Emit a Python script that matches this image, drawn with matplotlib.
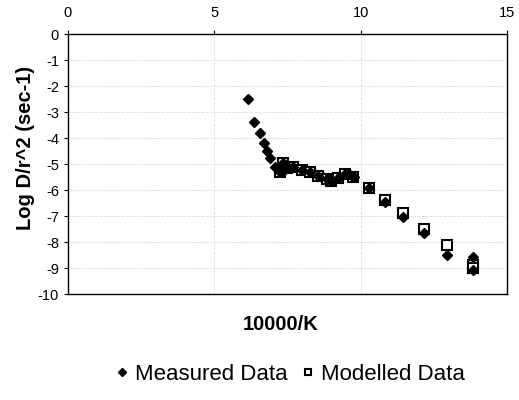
import matplotlib.pyplot as plt

plt.rcParams['font.family'] = ['Liberation Sans', 'DejaVu Sans']
plt.rcParams['axes.unicode_minus'] = False

# measured data (10000/K, log D/r^2)
meas_x = [6.16, 6.37, 6.56, 6.70, 6.80, 6.91, 7.07, 7.20, 7.24, 7.30, 7.36, 7.42, 7.47,
          7.55, 7.70, 7.98, 8.27, 8.55, 8.84, 9.00, 9.01, 9.24, 9.46, 9.60, 9.75, 9.77,
          10.28, 10.83, 11.46, 12.16, 12.94, 13.85, 13.85]
meas_y = [-2.51, -3.40, -3.82, -4.20, -4.50, -4.78, -5.10, -5.20, -5.30, -5.30, -4.97, -5.05,
          -5.17, -5.15, -5.10, -5.23, -5.32, -5.45, -5.58, -5.65, -5.64, -5.53, -5.40, -5.38,
          -5.49, -5.50, -5.93, -6.47, -7.03, -7.67, -8.50, -8.59, -9.08]

# modelled data
mod_x = [7.24, 7.36, 7.47, 7.70, 7.98, 8.27, 8.55, 8.84, 9.00, 9.24, 9.46, 9.75,
         10.28, 10.83, 11.46, 12.16, 12.94, 13.85, 13.85]
mod_y = [-5.30, -4.97, -5.17, -5.10, -5.23, -5.32, -5.45, -5.58, -5.65, -5.53, -5.40, -5.49,
         -5.93, -6.38, -6.90, -7.51, -8.12, -8.88, -9.00]

fig = plt.figure(figsize=(5.19, 4.0), dpi=100)
ax = fig.add_axes([0.131, 0.265, 0.846, 0.65])

ax.plot(meas_x, meas_y, linestyle='none', marker='D', markersize=5.5,
        color='black', label='Measured Data', zorder=4)
ax.plot(mod_x, mod_y, linestyle='none', marker='s', markersize=6.5,
        markerfacecolor='white', markeredgecolor='black', markeredgewidth=1.5,
        label='Modelled Data', zorder=3)

ax.set_xlim(0, 15)
ax.set_ylim(-10, 0)
ax.set_xticks([0, 5, 10, 15])
ax.set_yticks(range(-10, 1))
ax.xaxis.tick_top()
ax.tick_params(axis='both', labelsize=10.5, length=3, direction='out')
ax.tick_params(axis='x', pad=7)
ax.grid(True, color='#dddddd', linestyle='--', linewidth=0.6)
for s in ax.spines.values():
    s.set_linewidth(1.0)

ax.set_xlabel('10000/K', fontsize=14.5, fontweight='bold')
ax.set_ylabel('Log D/r^2 (sec-1)', fontsize=14.5, fontweight='bold')
ax.xaxis.set_label_coords(0.485, -0.08)
ax.yaxis.set_label_coords(-0.075, 0.56)

fig.legend(loc='center', bbox_to_anchor=(0.555, 0.065), ncol=2, frameon=False,
           fontsize=16, handletextpad=0.1, columnspacing=0.4, handlelength=1.0,
           markerscale=0.7)

fig.savefig('out.png', dpi=100)
